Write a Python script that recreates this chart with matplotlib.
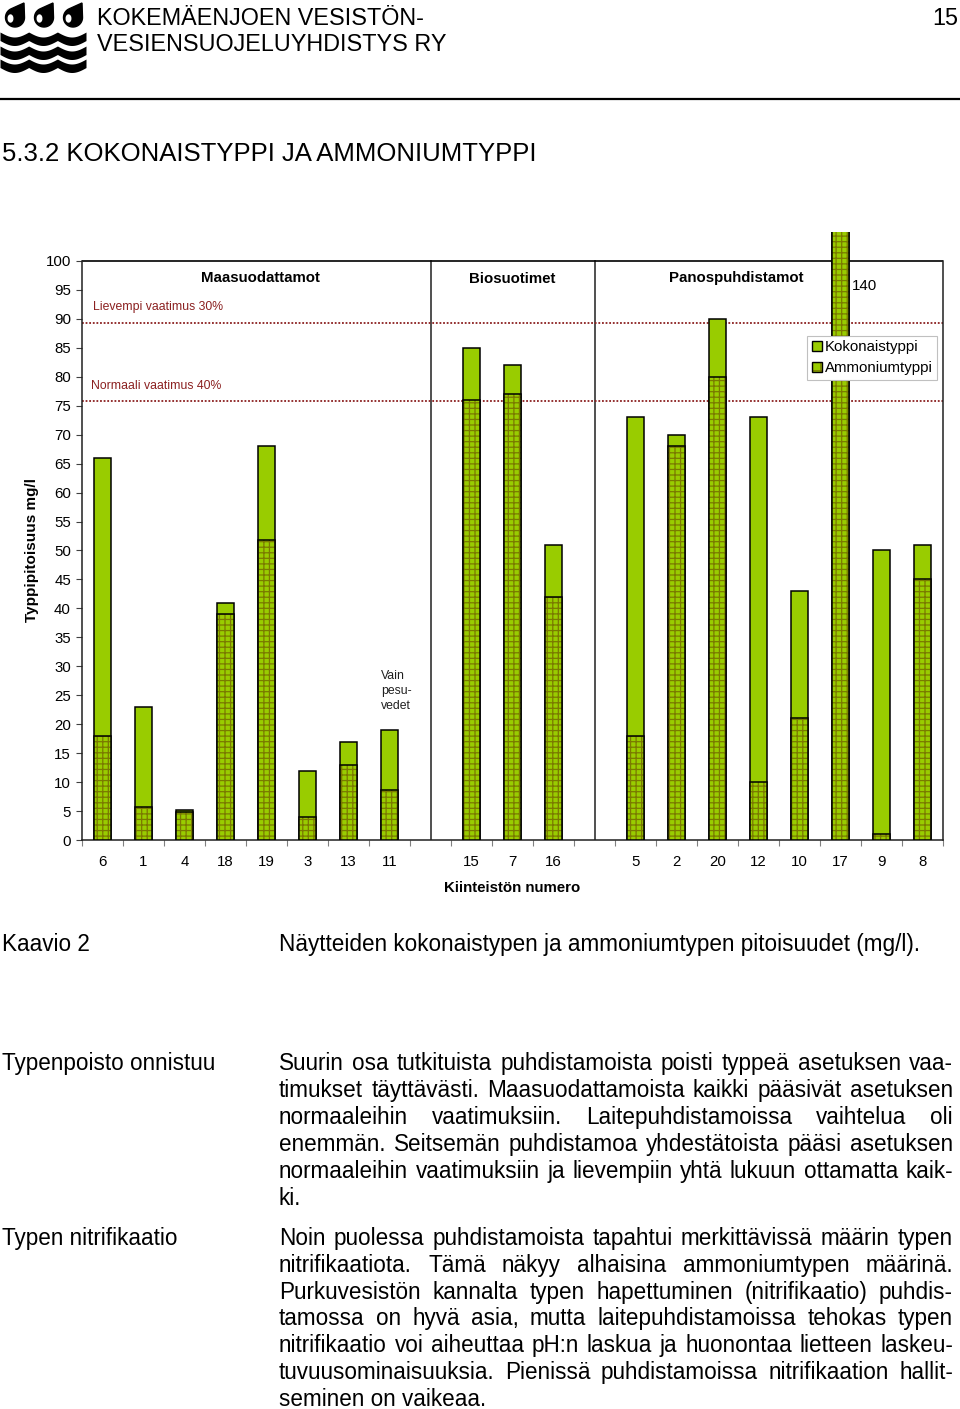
import numpy as np
import matplotlib
matplotlib.use("Agg")
import matplotlib.pyplot as plt
from matplotlib.patches import Patch, Polygon, Ellipse

W, H = 960, 1409

# --- data (mg/l) ---
maa_labels = ['6', '1', '4', '18', '19', '3', '13', '11']
maa_total = [66, 23, 5.2, 41, 68, 12, 17, 19]
maa_nh4 = [18, 5.7, 4.9, 39, 51.8, 4, 13, 8.7]

bio_labels = ['15', '7', '16']
bio_total = [85, 82, 51]
bio_nh4 = [76, 77, 42]

panos_labels = ['5', '2', '20', '12', '10', '17', '9', '8']
panos_total = [73, 70, 90, 73, 43, 140, 50, 51]
panos_nh4 = [18, 68, 80, 10, 21, 130, 1, 45]

group_names = ['Maasuodattamot', 'Biosuotimet', 'Panospuhdistamot']
limits = [89.2, 75.8]
limit_names = ['Lievempi vaatimus 30%', 'Normaali vaatimus 40%']

green = '#99cc00'
olive = '#7a7a00'
dred = '#8b2020'

plt.rcParams['font.family'] = ['Liberation Sans', 'DejaVu Sans']
plt.rcParams['hatch.linewidth'] = 0.9

fig = plt.figure(figsize=(W / 100, H / 100), dpi=100)
renderer = fig.canvas.get_renderer()


def fx(px):
    return px / W


def fy(py):
    return 1 - py / H


# ---------- chart ----------
groups = [(maa_labels, maa_total, maa_nh4),
          (bio_labels, bio_total, bio_nh4),
          (panos_labels, panos_total, panos_nh4)]
pos, labels, totals, nh4s, seps, centers = [], [], [], [], [], []
p = 0
for gi, (lab, tot, nh) in enumerate(groups):
    start = p
    for l, t, n in zip(lab, tot, nh):
        pos.append(p); labels.append(l); totals.append(t); nh4s.append(n)
        p += 1
    centers.append((start + p - 1) / 2)
    if gi < len(groups) - 1:
        seps.append(p)
        p += 1
nslots = p

ax = fig.add_axes([fx(82), fy(840), 861 / W, 608 / H])
bw = 0.41
ax.bar(pos, totals, bw, color=green, edgecolor='black', linewidth=1.1, zorder=2)
ax.bar(pos, nh4s, bw, color=green, edgecolor=olive, hatch='+++', linewidth=0, zorder=3)
ax.bar(pos, nh4s, bw, fill=False, edgecolor='black', linewidth=1.1, zorder=4)

for s in seps:
    ax.plot([s, s], [0, 100], color='#202020', lw=1.1, zorder=1)
ax.axhline(100, color='black', lw=1.2, zorder=1)
for v in limits:
    ax.axhline(v, color=dred, lw=1.3, ls=(0, (1, 1)), zorder=1)

fs = 10.8
ax.text(-0.23, 92.0, limit_names[0], color=dred, fontsize=8.8, va='center')
ax.text(-0.28, 78.4, limit_names[1], color=dred, fontsize=8.8, va='center')
ax.text(3.84, 97.0, group_names[0], fontsize=fs, fontweight='bold', ha='center', va='center')
ax.text(centers[1], 96.8, group_names[1], fontsize=fs, fontweight='bold', ha='center', va='center')
ax.text(15.45, 97.0, group_names[2], fontsize=fs, fontweight='bold', ha='center', va='center')
ax.text(18.28, 95.6, '140', fontsize=fs, va='center')
ax.text(6.79, 29.3, 'Vain\npesu-\nvedet', fontsize=8.8, va='top', color='#202020', linespacing=1.3)

ax.set_xlim(-0.5, nslots - 0.5)
ax.set_ylim(0, 105)
ax.set_yticks(range(0, 101, 5))
ax.set_xticks(pos, labels)
ax.set_xticks(np.arange(-0.5, nslots, 1), minor=True)
ax.tick_params(axis='y', length=4, width=0.8, color='#404040', pad=4, labelsize=fs)
ax.tick_params(axis='x', which='major', length=0, pad=11, labelsize=fs)
ax.tick_params(axis='x', which='minor', length=4, width=0.8, color='#808080')
ax.spines['top'].set_visible(False)
ax.spines['left'].set_bounds(0, 100)
ax.spines['right'].set_bounds(0, 100)
for sp in ['left', 'right', 'bottom']:
    ax.spines[sp].set_linewidth(1.1)
    ax.spines[sp].set_color('#202020')

ax.set_ylabel('Typpipitoisuus mg/l', fontsize=11, fontweight='bold', va='center')
ax.yaxis.set_label_coords(-0.058, 0.477)
ax.set_xlabel('Kiinteistön numero', fontsize=fs, fontweight='bold', va='center')
ax.xaxis.set_label_coords(0.4994, -0.079)

h_tot = Patch(facecolor=green, edgecolor='black', linewidth=1.0)
h_nh4 = (Patch(facecolor=green, edgecolor=olive, hatch='++', linewidth=0),
         Patch(fill=False, edgecolor='black', linewidth=1.0))
leg = ax.legend([h_tot, h_nh4], ['Kokonaistyppi', 'Ammoniumtyppi'],
                loc='upper right', bbox_to_anchor=(0.9935, 0.829), fontsize=fs,
                frameon=True, fancybox=False, framealpha=1, edgecolor='#c0c0c0',
                handlelength=0.7, handleheight=0.7, handletextpad=0.2,
                labelspacing=0.45, borderpad=0.3, borderaxespad=0)
leg.get_frame().set_linewidth(0.8)
leg.set_zorder(10)

# ---------- logo ----------
lg = fig.add_axes([0, fy(75), 90 / W, 75 / H])
lg.set_xlim(0, 90)
lg.set_ylim(75, 0)
lg.axis('off')
for cx in [15, 44, 73]:
    c = np.array([cx, 17.5])
    tip = np.array([cx + 9, 3.0])
    d = tip - c
    dist = np.hypot(*d)
    th0 = np.arctan2(d[1], d[0])
    a = np.arccos(9.5 / dist)
    th = np.linspace(th0 + a, th0 + 2 * np.pi - a, 40)
    pts = np.vstack([tip, np.c_[c[0] + 9.5 * np.cos(th), c[1] + 9.5 * np.sin(th)]])
    lg.add_patch(Polygon(pts, closed=True, color='black'))
    lg.add_patch(Ellipse((cx - 4.5, 18.5), 4.5, 7, color='white'))
xs = np.linspace(0, 86, 200)
for base in [32, 46, 59]:
    top = base + 5 * np.abs(np.sin(np.pi * xs / 28.7))
    lg.fill_between(xs, top, top + 8.5, color='black', lw=0)

# ---------- page text ----------
head = dict(fontsize=16.8, family=['Liberation Sans', 'DejaVu Sans'], va='baseline')
fig.text(fx(97), fy(25), 'KOKEMÄENJOEN VESISTÖN-', **head)
fig.text(fx(97), fy(51), 'VESIENSUOJELUYHDISTYS RY', **head)
fig.text(fx(958), fy(25), '15', ha='right', **head)
fig.add_artist(plt.Line2D([0, 1], [fy(99), fy(99)], color='black', lw=1.6))
fig.text(fx(2), fy(161), '5.3.2 KOKONAISTYPPI JA AMMONIUMTYPPI', fontsize=18.5, va='baseline')

body_family = ['Liberation Sans Narrow', 'DejaVu Sans Condensed', 'Liberation Sans', 'DejaVu Sans']


def measure(s, size):
    t = fig.text(0, 0, s, fontsize=size, family=body_family)
    w = t.get_window_extent(renderer).width
    t.remove()
    return w


caption = 'Näytteiden kokonaistypen ja ammoniumtypen pitoisuudet (mg/l).'
bsize = 15 * 643 / measure(caption, 15)
btxt = dict(fontsize=bsize, family=body_family, va='baseline')

fig.text(fx(2), fy(951), 'Kaavio 2', **btxt)
fig.text(fx(279), fy(951), caption, **btxt)

para1 = ['Suurin osa tutkituista puhdistamoista poisti typpeä asetuksen vaa-',
         'timukset täyttävästi. Maasuodattamoista kaikki pääsivät asetuksen',
         'normaaleihin vaatimuksiin. Laitepuhdistamoissa vaihtelua oli',
         'enemmän. Seitsemän puhdistamoa yhdestätoista pääsi asetuksen',
         'normaaleihin vaatimuksiin ja lievempiin yhtä lukuun ottamatta kaik-',
         'ki.']
para2 = ['Noin puolessa puhdistamoista tapahtui merkittävissä määrin typen',
         'nitrifikaatiota. Tämä näkyy alhaisina ammoniumtypen määrinä.',
         'Purkuvesistön kannalta typen hapettuminen (nitrifikaatio) puhdis-',
         'tamossa on hyvä asia, mutta laitepuhdistamoissa tehokas typen',
         'nitrifikaatio voi aiheuttaa pH:n laskua ja huonontaa lietteen laskeu-',
         'tuvuusominaisuuksia. Pienissä puhdistamoissa nitrifikaation hallit-',
         'seminen on vaikeaa.']


def justify(lines, x0, x1, y0, pitch):
    for i, line in enumerate(lines):
        y = y0 + i * pitch
        if i == len(lines) - 1:
            fig.text(fx(x0), fy(y), line, **btxt)
            continue
        words = line.split()
        widths = [measure(w, bsize) for w in words]
        gap = (x1 - x0 - sum(widths)) / (len(words) - 1)
        x = x0
        for w, wd in zip(words, widths):
            fig.text(fx(x), fy(y), w, **btxt)
            x += wd + gap


fig.text(fx(2), fy(1070), 'Typenpoisto onnistuu', **btxt)
justify(para1, 279, 953, 1070, 27)
fig.text(fx(2), fy(1245), 'Typen nitrifikaatio', **btxt)
justify(para2, 279, 953, 1245, 26.8)

fig.savefig('out.png', dpi=100)
